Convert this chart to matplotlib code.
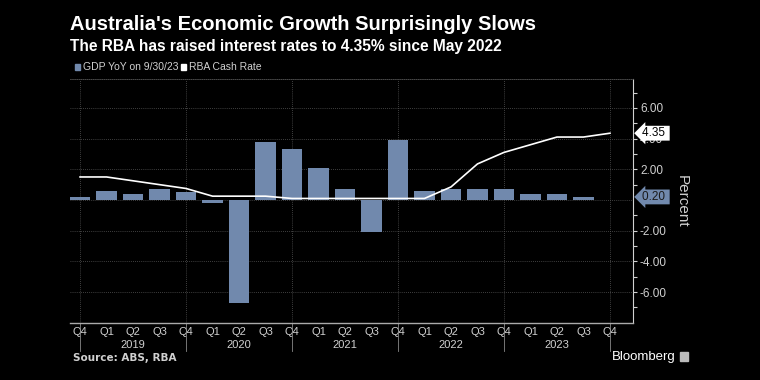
import matplotlib
matplotlib.use("Agg")
import matplotlib.pyplot as plt
import matplotlib.transforms as mtransforms
from matplotlib.patches import Rectangle

# quarterly data, Q4 2018 .. Q4 2023
quarters = ["Q4", "Q1", "Q2", "Q3", "Q4", "Q1", "Q2", "Q3", "Q4", "Q1", "Q2",
            "Q3", "Q4", "Q1", "Q2", "Q3", "Q4", "Q1", "Q2", "Q3", "Q4"]
years = ["2019", "2020", "2021", "2022", "2023"]
gdp = [0.2, 0.6, 0.4, 0.7, 0.5, -0.2, -6.7, 3.8, 3.3, 2.1, 0.7, -2.1, 3.9,
       0.6, 0.7, 0.7, 0.7, 0.4, 0.4, 0.2]
cash_rate = [1.5, 1.5, 1.25, 1.0, 0.75, 0.25, 0.25, 0.25, 0.1, 0.1, 0.1, 0.1,
             0.1, 0.1, 0.85, 2.35, 3.1, 3.6, 4.1, 4.1, 4.35]

BAR = "#7189ad"
GRID = "#555555"
TXT = "#d0d0d0"
small = ["Liberation Sans Narrow", "Liberation Sans", "DejaVu Sans"]

fig = plt.figure(figsize=(7.6, 3.8), dpi=100, facecolor="black")
ax = fig.add_axes([70/760, (380-323.3)/380, (633-70)/760, (323.3-79)/380])
ax.set_facecolor("black")

ax.bar(range(len(gdp)), gdp, width=0.76, color=BAR, zorder=2)
ax.plot(range(len(cash_rate)), cash_rate, color="white", lw=1.2, zorder=3)

ax.set_xlim(-0.38, 20.87)
ax.set_ylim(-8.03, 7.88)

# y axis on the right
ax.yaxis.tick_right()
ax.set_yticks([-6, -4, -2, 2, 4, 6])
ax.set_yticks(range(-7, 8, 2), minor=True)
ax.set_yticklabels([f"{v:.2f}" for v in [-6, -4, -2, 2, 4, 6]], family=small,
                   fontsize=8.5, color=TXT)
ax.tick_params(axis="y", which="both", direction="out", length=3, width=0.8,
               color=TXT, pad=2)
ax.yaxis.set_label_position("right")
ax.set_ylabel("Percent", rotation=-90, color=TXT, fontsize=11, family=small,
              labelpad=16)

# x axis
ax.set_xticks(range(len(quarters)))
ax.set_xticklabels(quarters, family=small, fontsize=8, color=TXT)
ax.tick_params(axis="x", length=0, pad=2.5)

# grids
ax.grid(False)
for y in [-6, -4, -2, 0, 2, 4, 6]:
    ax.axhline(y, color=GRID, lw=0.6, ls=(0, (1, 1.5)), zorder=1)
q4 = [i for i, q in enumerate(quarters) if q == "Q4"]
for x in q4:
    ax.axvline(x, color=GRID, lw=0.6, ls=(0, (1, 1.5)), zorder=1)

ax.spines["left"].set_visible(False)
ax.spines["top"].set_color(GRID)
ax.spines["top"].set_linestyle((0, (1, 1.5)))
ax.spines["top"].set_linewidth(0.6)
ax.spines["right"].set_color(TXT)
ax.spines["bottom"].set_color("#aaaaaa")
ax.spines["bottom"].set_linewidth(1.0)

# year separators and labels below the axis
trans = mtransforms.blended_transform_factory(ax.transData, ax.transAxes)
for x in q4:
    ax.plot([x, x], [0, -0.112], transform=trans, color="#888888", lw=0.6,
            clip_on=False)
for i, yr in enumerate(years):
    ax.text((q4[i] + q4[i + 1]) / 2, -0.09, yr, transform=trans, ha="center",
            va="center", color=TXT, fontsize=8, family=small)

# value tags on the right axis
tt = mtransforms.blended_transform_factory(ax.transAxes, ax.transData)
ax.text(1.016, cash_rate[-1], f"{cash_rate[-1]:.2f} ", transform=tt, ha="left",
        va="center", fontsize=8.5, family=small, color="black", zorder=10,
        bbox=dict(boxstyle="larrow,pad=0.12", fc="white", ec="none"))
ax.text(1.016, gdp[-1], f"{gdp[-1]:.2f} ", transform=tt, ha="left",
        va="center", fontsize=8.5, family=small, color="#1a1a1a", zorder=10,
        bbox=dict(boxstyle="larrow,pad=0.12", fc=BAR, ec="none"))

# titles
fig.text(70/760, (380-25)/380, "Australia's Economic Growth Surprisingly Slows",
         color="white", fontsize=14.5, fontweight="bold", va="center",
         family=["Liberation Sans", "DejaVu Sans"])
fig.text(70/760, (380-47)/380,
         "The RBA has raised interest rates to 4.35% since May 2022",
         color="white", fontsize=11.2, fontweight="bold", va="center",
         family=["Liberation Sans", "DejaVu Sans"])

# legend
fig.patches.append(Rectangle((75/760, (380-70)/380), 5/760, 6/380, color=BAR,
                             transform=fig.transFigure))
fig.text(83/760, (380-67)/380, "GDP YoY on 9/30/23", color=TXT, fontsize=7.5,
         va="center", family=small)
fig.patches.append(Rectangle((181/760, (380-70)/380), 5/760, 6/380,
                             color="white", transform=fig.transFigure))
fig.text(189/760, (380-67)/380, "RBA Cash Rate", color=TXT, fontsize=7.5,
         va="center", family=small)

# footer
fig.text(73/760, (380-358)/380, "Source: ABS, RBA", color=TXT, fontsize=7.5,
         fontweight="bold", va="center", family=["DejaVu Sans"])
fig.text(612/760, (380-357)/380, "Bloomberg", color="white", fontsize=9.5,
         va="center", family=["Liberation Sans", "DejaVu Sans"])
fig.patches.append(Rectangle((680/760, (380-361)/380), 8/760, 9/380,
                             color="#bbbbbb", transform=fig.transFigure))

fig.savefig("out.png", dpi=100, facecolor="black")
